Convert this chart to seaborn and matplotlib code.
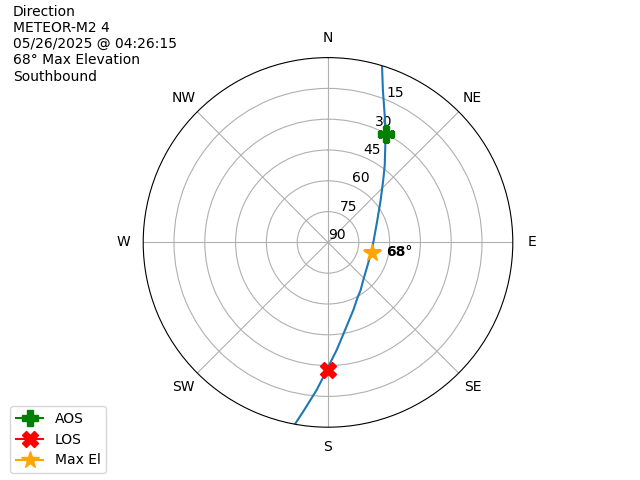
import numpy as np
import pandas as pd
import matplotlib
matplotlib.use("Agg")
import matplotlib.pyplot as plt
import seaborn as sns

# pass track (azimuth deg, elevation deg)
track_az = [17, 19.8, 24.4, 28, 36.2, 41.5, 51.2, 65.6, 89.5, 103.6, 113.6, 136.8,
            145.5, 152.3, 159.5, 169, 175.4, 180.6, 182.6, 184.4, 188.1, 190.3]
track_el = [0, 11.1, 23, 30.2, 43.2, 49.4, 57.1, 63.6, 67.9, 68.4, 68.2, 64.9,
            61.9, 59.3, 54.8, 46.5, 37.4, 27.9, 22.9, 17.9, 7.5, 0]

aos_az, aos_el = 28, 30
los_az, los_el = 180, 28
max_az, max_el = 103.6, 68

compass = ["N", "NE", "E", "SE", "S", "SW", "W", "NW"]
elev_ticks = [90, 75, 60, 45, 30, 15]

info = "Direction\nMETEOR-M2 4\n05/26/2025 @ 04:26:15\n68° Max Elevation\nSouthbound"

df = pd.DataFrame({
    "theta": np.radians(track_az),
    "r": 90 - np.array(track_el),
})

fig = plt.figure(figsize=(6.4, 4.8), dpi=100)
ax = fig.add_subplot(111, projection="polar")
ax.set_theta_zero_location("N")
ax.set_theta_direction(-1)

sns.lineplot(data=df, x="theta", y="r", sort=False, ax=ax, color="tab:blue", legend=False)

ax.plot(np.radians(aos_az), 90 - aos_el, color="green", marker="P", markersize=12, label="AOS")
ax.plot(np.radians(los_az), 90 - los_el, color="red", marker="X", markersize=12, label="LOS")
ax.plot(np.radians(max_az), 90 - max_el, color="orange", marker="*", markersize=13, label="Max El")
ax.annotate(f"{max_el}°", (np.radians(max_az), 90 - max_el), xytext=(10, 1),
            textcoords="offset points", va="center", fontweight="bold")

ax.set_ylim(0, 90)
ax.set_yticks([90 - e for e in elev_ticks])
ax.set_yticklabels([str(e) for e in elev_ticks])
ax.set_xticks(np.radians(np.arange(0, 360, 45)))
ax.set_xticklabels(compass)
ax.set_xlabel("")
ax.set_ylabel("")
ax.grid(True)

fig.text(0.02, 0.99, info, ha="left", va="top")
fig.legend(loc="lower left", bbox_to_anchor=(0.005, 0.0))

fig.savefig("out.png", dpi=100)
